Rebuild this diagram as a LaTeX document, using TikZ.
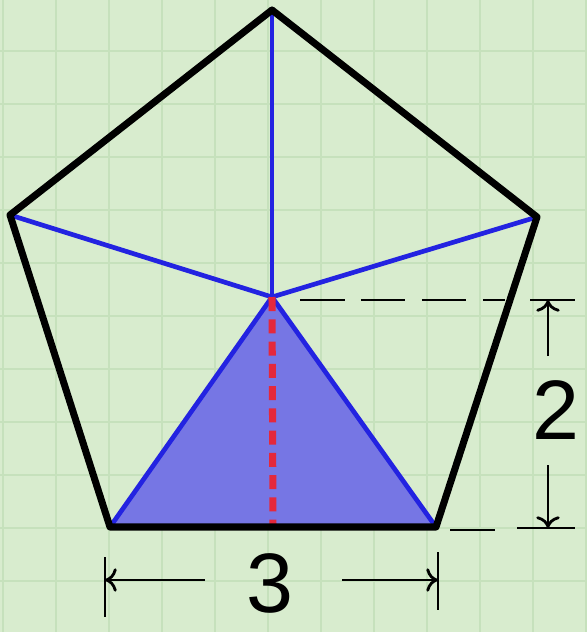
\documentclass[tikz,border=0pt]{standalone}
\usepackage{fontspec}
\setmainfont{Liberation Sans}
\usepackage{xcolor}
\usepackage{tikz}
\usetikzlibrary{arrows.meta}

\definecolor{paper}{RGB}{216,236,206}
\definecolor{gridline}{RGB}{198,225,188}
\definecolor{triafill}{RGB}{118,118,228}
\definecolor{spokeblue}{RGB}{35,35,225}
\definecolor{heightred}{RGB}{228,40,60}

\tikzset{
  edge/.style={line width=6pt, line join=round, line cap=round},
  spokeline/.style={spokeblue, line width=4pt},
  dimline/.style={line width=2.4pt},
  dimarrow/.style={line width=2.4pt, -{To[length=10pt,width=20pt,line width=2.4pt]}},
  numlabel/.style={font=\fontsize{72}{72}\selectfont, inner sep=0pt}
}

\begin{document}
\begin{tikzpicture}[x=0.03cm, y=-0.03cm]
    % Paper
    \useasboundingbox (0,0) rectangle (587,632);
    \clip (0,0) rectangle (587,632);
    \fill[paper] (0,0) rectangle (587,632);
    \draw[gridline, line width=1.4pt, step=53*0.03cm, shift={(3,-2)}] (-3,2) grid (590,640);

    % Corners
    \coordinate (top) at (272,10);
    \coordinate (right) at (537,217);
    \coordinate (lowright) at (436,527);
    \coordinate (lowleft) at (110,527);
    \coordinate (left) at (10,215);
    \coordinate (centre) at (272,297);
    \coordinate (foot) at (273,527);

    % Shaded triangle
    \fill[triafill] (centre) -- (lowleft) -- (lowright) -- cycle;

    % Spokes
    \foreach \c in {top, right, lowright, lowleft, left}
        \draw[spokeline] (centre) -- (\c);

    % Height
    \draw[heightred, line width=6pt, dash pattern=on 12pt off 7pt] (centre) -- (foot);

    % Pentagon
    \draw[edge] (top) -- (right) -- (lowright) -- (lowleft) -- (left) -- cycle;

    % Height dimension
    \coordinate (hstart) at (300,300);
    \coordinate (hend) at (505,300);
    \draw[dimline, dash pattern=on 38pt off 14pt] (hstart) -- (hend);
    \draw[dimline, dash pattern=on 38pt off 14pt] (450,530) -- (500,530);
    \coordinate (tickup) at (548,300);
    \coordinate (tickdown) at (548,528);
    \draw[dimline] (530,300) -- (575,300);
    \draw[dimline] (517,528) -- (575,528);
    \node[numlabel] (two) at (556,410) {2};
    \draw[dimarrow] (548,356) -- (tickup);
    \draw[dimarrow] (548,465) -- (tickdown);

    % Base dimension
    \coordinate (tickleft) at (105,580);
    \coordinate (tickright) at (438,580);
    \draw[dimline] (105,557) -- (105,617);
    \draw[dimline] (438,552) -- (438,610);
    \node[numlabel] (three) at (270,583) {3};
    \draw[dimarrow] (205,580) -- (tickleft);
    \draw[dimarrow] (342,580) -- (tickright);
\end{tikzpicture}
\end{document}
